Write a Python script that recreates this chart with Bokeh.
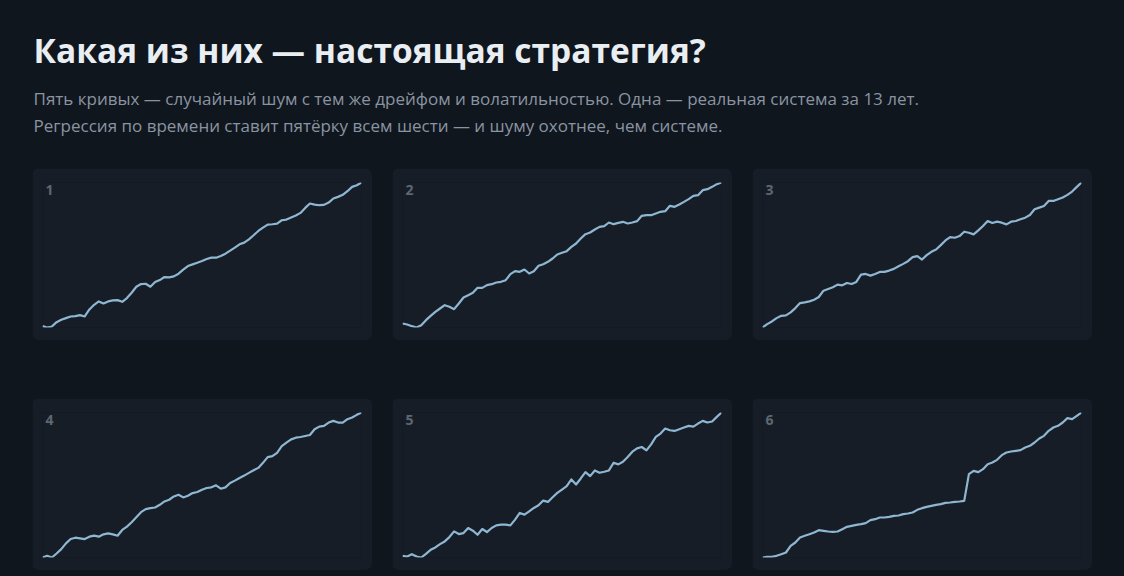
from bokeh.plotting import figure
from bokeh.layouts import column, row
from bokeh.models import Label, Range1d
from bokeh.embed import file_html
from bokeh.resources import INLINE

BG = "#10161e"
PANEL = "#161d27"
LINE = "#8fb7d2"
LABEL_C = "#5d6772"

TITLE = "Какая из них — настоящая стратегия?"
SUB1 = "Пять кривых — случайный шум с тем же дрейфом и волатильностью. Одна — реальная система за 13 лет."
SUB2 = "Регрессия по времени ставит пятёрку всем шести — и шуму охотнее, чем системе."
labels = ["1", "2", "3", "4", "5", "6"]

curve_1 = [8, 4, 7, 20, 27, 32, 37, 38, 41, 37, 58, 72, 82, 76, 82, 85, 86, 81, 92, 108,
           126, 134, 135, 126, 140, 146, 155, 154, 157, 165, 177, 188, 193, 198, 203, 209,
           213, 213, 218, 225, 234, 243, 253, 258, 268, 280, 293, 303, 312, 313, 315, 325,
           327, 333, 339, 347, 362, 375, 372, 370, 371, 378, 390, 395, 401, 412, 425, 430, 438]
curve_2 = [15, 12, 7, 3, 10, 25, 38, 50, 60, 70, 65, 58, 75, 93, 100, 107, 122, 122, 130, 133,
           138, 140, 145, 163, 172, 170, 177, 165, 172, 188, 193, 200, 210, 222, 227, 232,
           245, 255, 270, 283, 288, 297, 305, 307, 318, 313, 317, 320, 315, 318, 322, 338,
           340, 340, 345, 350, 352, 368, 365, 372, 380, 388, 398, 400, 415, 418, 425, 433, 438]
curve_3 = [2, 12, 20, 30, 37, 38, 47, 60, 75, 77, 80, 85, 93, 112, 117, 122, 130, 128, 135, 132,
           138, 160, 162, 157, 162, 168, 168, 172, 177, 185, 192, 200, 212, 215, 205, 218,
           228, 235, 248, 262, 272, 270, 275, 288, 285, 280, 292, 305, 320, 314, 318, 315,
           310, 318, 320, 325, 330, 338, 355, 360, 365, 380, 380, 385, 390, 398, 408, 422, 435]
curve_4 = [3, 8, 3, 15, 28, 45, 58, 62, 60, 58, 65, 68, 65, 72, 75, 72, 68, 85, 95, 108,
           123, 138, 147, 150, 152, 160, 170, 175, 185, 190, 182, 187, 195, 198, 205, 210,
           212, 218, 208, 212, 225, 232, 240, 247, 255, 263, 270, 285, 302, 305, 315, 335,
           345, 355, 360, 362, 365, 368, 385, 393, 395, 405, 410, 405, 405, 415, 420, 428, 435]
curve_5 = [7, 5, 12, 5, 2, 13, 25, 32, 42, 50, 63, 80, 72, 75, 90, 82, 70, 87, 78, 90,
           98, 100, 100, 98, 115, 135, 130, 140, 150, 158, 172, 168, 182, 195, 205, 215,
           235, 220, 238, 257, 245, 262, 255, 258, 262, 285, 280, 288, 302, 318, 328, 332,
           322, 340, 362, 372, 387, 382, 380, 385, 390, 395, 393, 402, 410, 405, 408, 422, 435]
curve_6 = [0, 2, 2, 5, 10, 15, 35, 45, 60, 65, 70, 75, 82, 80, 78, 77, 78, 85, 92, 95,
           98, 100, 103, 112, 115, 120, 120, 122, 125, 126, 130, 132, 135, 143, 148, 152,
           155, 158, 160, 164, 165, 167, 168, 170, 250, 260, 256, 265, 280, 285, 293, 307,
           315, 318, 320, 322, 330, 335, 345, 357, 365, 380, 390, 395, 405, 418, 415, 425, 435]
curves = [curve_1, curve_2, curve_3, curve_4, curve_5, curve_6]


def bare(p, fill):
    p.grid.visible = False
    p.outline_line_color = None
    p.background_fill_color = fill
    p.border_fill_color = fill


header = figure(width=1108, height=160, output_backend="svg", toolbar_location=None,
                x_range=Range1d(0, 1), y_range=Range1d(0, 1), min_border=0,
                x_axis_location=None, y_axis_location=None)
bare(header, BG)
header.add_layout(Label(x=25, y=119, x_units="screen", y_units="screen", text=TITLE,
                        text_font="Open Sans", text_font_style="bold", text_font_size="33.5px",
                        text_color="#e9eef3", text_baseline="alphabetic"))
header.add_layout(Label(x=25, y=70, x_units="screen", y_units="screen", text=SUB1,
                        text_font="Open Sans", text_font_size="17px",
                        text_color="#8a94a1", text_baseline="alphabetic"))
header.add_layout(Label(x=25, y=43, x_units="screen", y_units="screen", text=SUB2,
                        text_font="Open Sans", text_font_size="17px",
                        text_color="#8a94a1", text_baseline="alphabetic"))


def panel(vals, lab):
    xs = list(range(len(vals)))
    p = figure(width=340, height=172, output_backend="svg", toolbar_location=None,
               x_range=Range1d(0, len(vals) - 1), y_range=Range1d(min(vals), max(vals)),
               min_border_left=10, min_border_right=11, min_border_top=14, min_border_bottom=13,
               x_axis_location=None, y_axis_location=None,
               styles={"border-radius": "7px", "overflow": "hidden"})
    bare(p, PANEL)
    p.line(xs, vals, line_color=LINE, line_width=2.2, line_join="round")
    p.add_layout(Label(x=3, y=138, x_units="screen", y_units="screen", text=lab,
                       text_font="Open Sans", text_font_style="bold", text_font_size="14px",
                       text_color=LABEL_C, text_baseline="alphabetic"))
    return p


panels = [panel(c, l) for c, l in zip(curves, labels)]
row1 = row(panels[0], panels[1], panels[2], spacing=20, margin=(0, 0, 0, 24))
row2 = row(panels[3], panels[4], panels[5], spacing=20, margin=(58, 0, 0, 24))
p = column(header, row1, row2, spacing=0, margin=(8, 0, 0, 8))

TEMPLATE = """
{% block postamble %}
<style>html, body { background: #10161e; overflow: hidden; }</style>
{% endblock %}
"""

open("out.html", "w").write(file_html(p, INLINE, template=TEMPLATE))
